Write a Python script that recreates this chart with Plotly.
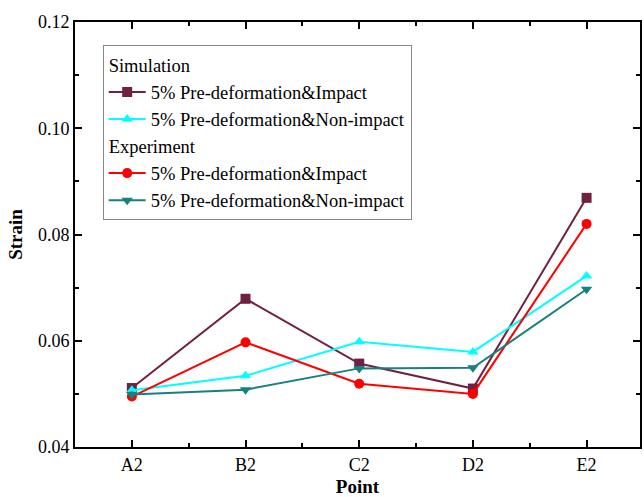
import plotly.graph_objects as go

categories = ["A2", "B2", "C2", "D2", "E2"]
sim_impact = [0.0511, 0.0679, 0.0557, 0.0510, 0.0869]
sim_nonimpact = [0.0507, 0.0534, 0.0598, 0.0579, 0.0722]
exp_impact = [0.0495, 0.0597, 0.0519, 0.0500, 0.0820]
exp_nonimpact = [0.0499, 0.0508, 0.0548, 0.0549, 0.0697]
y_ticks = [0.04, 0.06, 0.08, 0.10, 0.12]
y_ticklabels = ["0.04", "0.06", "0.08", "0.10", "0.12"]

xpos = list(range(len(categories)))
FONT = "'Liberation Serif', 'Times New Roman', serif"

fig = go.Figure()
series = [
    ("sim", "Simulation", "5% Pre-deformation&Impact", sim_impact, "#70213F", "square"),
    ("sim", "Simulation", "5% Pre-deformation&Non-impact", sim_nonimpact, "#00FFFF", "triangle-up"),
    ("exp", "Experiment", "5% Pre-deformation&Impact", exp_impact, "#FF0000", "circle"),
    ("exp", "Experiment", "5% Pre-deformation&Non-impact", exp_nonimpact, "#18807E", "triangle-down"),
]
for grp, gtitle, name, vals, color, sym in series:
    fig.add_trace(go.Scatter(
        x=xpos, y=vals, mode="lines+markers", name=name,
        legendgroup=grp, legendgrouptitle=dict(text=gtitle, font=dict(family=FONT, size=18.5, color="black")),
        line=dict(color=color, width=2),
        marker=dict(symbol=sym, size=10, color=color),
    ))

fig.update_layout(
    width=644, height=497,
    margin=dict(l=75, r=2, t=22, b=50),
    paper_bgcolor="white", plot_bgcolor="white",
    font=dict(family=FONT, size=16, color="black"),
    showlegend=True,
    legend=dict(
        x=0.049, y=0.945, xanchor="left", yanchor="top",
        bgcolor="white", bordercolor="#888888", borderwidth=1,
        font=dict(family=FONT, size=18.5, color="black"),
        traceorder="grouped", tracegroupgap=0,
        itemwidth=37,
    ),
)
fig.update_xaxes(
    range=[-0.5, 4.47],
    tickmode="array", tickvals=xpos, ticktext=categories,
    ticks="inside", ticklen=7, tickwidth=1.5, tickcolor="black",
    minor=dict(dtick=0.5, tick0=0.5, ticks="inside", ticklen=4, tickcolor="black", tickwidth=1.5),
    showline=True, linecolor="black", linewidth=2, mirror="allticks",
    showgrid=False, zeroline=False,
    title=dict(text="<b>Point</b>", font=dict(family=FONT, size=19), standoff=6),
    tickfont=dict(family=FONT, size=18),
)
fig.update_yaxes(
    range=[0.04, 0.12],
    tickmode="array", tickvals=y_ticks, ticktext=y_ticklabels,
    ticks="inside", ticklen=7, tickwidth=1.5, tickcolor="black",
    minor=dict(dtick=0.01, tick0=0.04, ticks="inside", ticklen=4, tickcolor="black", tickwidth=1.5),
    showline=True, linecolor="black", linewidth=2, mirror="allticks",
    showgrid=False, zeroline=False,
    title=dict(text="<b>Strain</b>", font=dict(family=FONT, size=19), standoff=10),
    tickfont=dict(family=FONT, size=18),
)

fig.write_html(
    "out.html",
    config={"displayModeBar": False},
    post_script="document.body.style.margin='0';document.body.style.overflow='hidden';",
)
